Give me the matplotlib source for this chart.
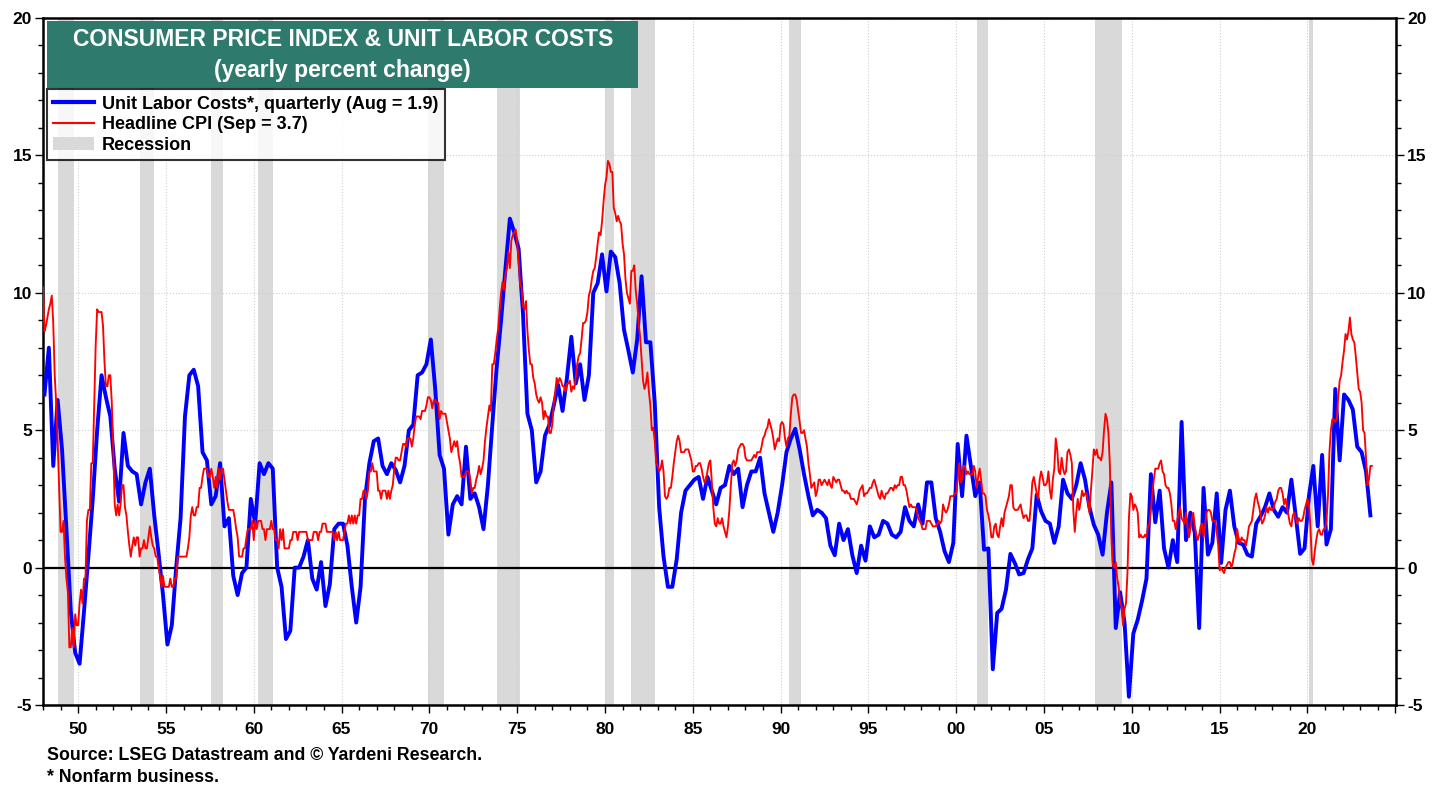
import numpy as np
import matplotlib
matplotlib.use("Agg")
import matplotlib.pyplot as plt
from matplotlib.patches import Rectangle, Patch
from matplotlib.lines import Line2D
from matplotlib.ticker import MultipleLocator, FuncFormatter

plt.rcParams["font.family"] = ["Liberation Sans", "DejaVu Sans"]
plt.rcParams["font.weight"] = "bold"

# Headline CPI, yearly % change, monthly from Jan 1948
cpi_1948_49 = [10.2, 8.6, 8.8, 9.1, 9.4, 9.6, 9.9, 8.9, 7.0, 6.0, 4.6, 3.0,
               1.3, 1.3, 1.7, 0.4, -0.4, -0.9, -2.9, -2.9, -2.2, -2.9, -1.7, -2.1]
cpi_1950s = [-2.1, -1.3, -0.8, -1.3, -0.4, -0.4, 1.7, 2.1, 2.1, 3.8, 3.8, 5.9,
             8.1, 9.4, 9.3, 9.3, 9.3, 8.8, 7.5, 6.6, 6.6, 7.0, 7.0, 6.0,
             4.3, 2.3, 1.9, 2.3, 1.9, 2.3, 3.0, 3.0, 2.2, 1.9, 1.3, 0.8,
             0.4, 0.8, 1.1, 0.8, 1.1, 1.1, 0.4, 0.7, 0.7, 1.0, 0.7, 0.7,
             1.1, 1.5, 1.1, 0.8, 0.7, 0.4, 0.4, 0.0, -0.3, -0.7, -0.3, -0.7,
             -0.7, -0.7, -0.7, -0.4, -0.7, -0.7, -0.4, -0.4, 0.4, 0.4, 0.4, 0.4,
             0.4, 0.4, 0.4, 0.7, 1.1, 1.9, 2.2, 1.9, 1.9, 2.2, 2.2, 2.9,
             2.9, 3.3, 3.6, 3.6, 3.6, 3.3, 3.3, 3.6, 3.3, 2.9, 3.3, 2.9,
             3.6, 3.2, 3.6, 3.6, 3.2, 2.8, 2.4, 2.1, 2.1, 2.1, 2.1, 1.8,
             1.4, 1.1, 0.4, 0.4, 0.4, 0.7, 0.7, 1.1, 1.4, 1.4, 1.4, 1.7]
cpi_1960s = [1.0, 1.7, 1.4, 1.7, 1.7, 1.7, 1.4, 1.4, 1.0, 1.4, 1.4, 1.4,
             1.7, 1.4, 1.4, 1.0, 1.0, 0.7, 1.4, 1.0, 1.4, 0.7, 0.7, 0.7,
             0.7, 1.0, 1.0, 1.3, 1.3, 1.3, 1.0, 1.3, 1.3, 1.3, 1.3, 1.3,
             1.3, 1.0, 1.0, 1.0, 1.0, 1.3, 1.3, 1.3, 1.0, 1.3, 1.3, 1.6,
             1.6, 1.6, 1.3, 1.3, 1.3, 1.3, 1.3, 1.0, 1.3, 1.0, 1.3, 1.0,
             1.0, 1.0, 1.3, 1.6, 1.6, 1.9, 1.6, 1.9, 1.6, 1.9, 1.6, 1.9,
             1.9, 2.5, 2.5, 2.8, 2.8, 2.5, 2.8, 3.5, 3.5, 3.8, 3.5, 3.5,
             3.5, 2.8, 2.8, 2.5, 2.8, 2.8, 2.8, 2.5, 2.8, 2.5, 2.8, 3.0,
             3.6, 4.0, 4.0, 3.9, 3.9, 4.2, 4.5, 4.5, 4.4, 4.7, 4.7, 4.7,
             4.4, 4.7, 5.2, 5.5, 5.5, 5.5, 5.4, 5.7, 5.7, 5.7, 5.9, 6.2]
cpi_1970s = [6.2, 6.1, 5.8, 6.1, 6.1, 6.0, 6.0, 5.4, 5.7, 5.6, 5.6, 5.6,
             5.3, 5.0, 4.7, 4.2, 4.4, 4.6, 4.4, 4.6, 4.1, 3.8, 3.3, 3.3,
             3.3, 3.5, 3.5, 3.5, 3.2, 2.7, 2.9, 2.9, 3.2, 3.4, 3.7, 3.4,
             3.6, 3.9, 4.6, 5.1, 5.5, 5.9, 5.7, 7.4, 7.4, 7.8, 8.3, 8.7,
             9.4, 10.0, 10.4, 10.1, 10.7, 10.9, 11.5, 10.9, 11.9, 12.1, 12.2, 12.3,
             11.8, 11.2, 10.3, 10.2, 9.5, 9.4, 9.7, 8.6, 7.9, 7.4, 7.4, 6.9,
             6.7, 6.3, 6.1, 6.0, 6.2, 6.0, 5.4, 5.7, 5.5, 5.5, 4.9, 4.9,
             5.2, 6.0, 6.4, 6.9, 6.7, 6.9, 6.8, 6.6, 6.6, 6.4, 6.7, 6.7,
             6.8, 6.4, 6.6, 6.5, 6.9, 7.4, 7.7, 7.8, 8.3, 8.9, 8.9, 9.0,
             9.3, 9.9, 10.1, 10.5, 10.8, 10.9, 11.3, 11.8, 12.2, 12.1, 12.6, 13.3]
cpi_1980s = [13.9, 14.2, 14.8, 14.7, 14.4, 14.4, 13.1, 12.9, 12.6, 12.8, 12.6, 12.5,
             11.8, 11.4, 10.5, 10.0, 9.8, 9.6, 10.8, 10.8, 11.0, 10.1, 9.6, 8.9,
             8.4, 7.6, 6.8, 6.5, 6.7, 7.1, 6.4, 5.9, 5.0, 5.1, 4.6, 3.8,
             3.7, 3.5, 3.6, 3.9, 3.5, 2.6, 2.5, 2.6, 2.9, 2.9, 3.3, 3.8,
             4.2, 4.6, 4.8, 4.6, 4.2, 4.2, 4.2, 4.3, 4.3, 4.3, 4.1, 3.9,
             3.5, 3.5, 3.7, 3.7, 3.8, 3.8, 3.6, 3.3, 3.1, 3.2, 3.5, 3.8,
             3.9, 3.1, 2.2, 1.6, 1.5, 1.8, 1.6, 1.6, 1.8, 1.5, 1.3, 1.1,
             1.5, 2.1, 3.0, 3.8, 3.9, 3.7, 3.9, 4.3, 4.4, 4.5, 4.5, 4.4,
             4.0, 3.9, 3.9, 3.9, 3.9, 4.0, 4.1, 4.0, 4.2, 4.2, 4.2, 4.4,
             4.7, 4.8, 5.0, 5.1, 5.4, 5.2, 5.0, 4.7, 4.3, 4.5, 4.7, 4.6]
cpi_1990s = [5.2, 5.3, 5.2, 4.7, 4.4, 4.7, 4.8, 5.6, 6.2, 6.3, 6.3, 6.1,
             5.7, 5.3, 4.9, 4.9, 5.0, 4.7, 4.4, 3.8, 3.4, 2.9, 3.0, 3.1,
             2.6, 2.8, 3.2, 3.2, 3.0, 3.1, 3.2, 3.1, 3.0, 3.2, 3.0, 2.9,
             3.3, 3.2, 3.1, 3.2, 3.2, 3.0, 2.8, 2.8, 2.7, 2.8, 2.7, 2.7,
             2.5, 2.5, 2.5, 2.4, 2.3, 2.5, 2.8, 2.9, 3.0, 2.6, 2.7, 2.7,
             2.8, 2.9, 2.9, 3.1, 3.2, 3.0, 2.8, 2.6, 2.5, 2.8, 2.6, 2.5,
             2.7, 2.7, 2.8, 2.9, 2.9, 2.8, 3.0, 2.9, 3.0, 3.0, 3.3, 3.3,
             3.0, 3.0, 2.8, 2.5, 2.2, 2.3, 2.2, 2.2, 2.2, 2.1, 1.8, 1.7,
             1.6, 1.4, 1.4, 1.4, 1.7, 1.7, 1.7, 1.6, 1.5, 1.5, 1.5, 1.6,
             1.7, 1.6, 1.7, 2.3, 2.1, 2.0, 2.1, 2.3, 2.6, 2.6, 2.6, 2.7]
cpi_2000s = [2.7, 3.2, 3.8, 3.1, 3.2, 3.7, 3.7, 3.4, 3.5, 3.4, 3.4, 3.4,
             3.7, 3.5, 2.9, 3.3, 3.6, 3.2, 2.7, 2.7, 2.6, 2.1, 1.9, 1.6,
             1.1, 1.1, 1.5, 1.6, 1.2, 1.1, 1.5, 1.8, 1.5, 2.0, 2.2, 2.4,
             2.6, 3.0, 3.0, 2.2, 2.1, 2.1, 2.1, 2.2, 2.3, 2.0, 1.8, 1.9,
             1.9, 1.7, 1.7, 2.3, 3.1, 3.3, 3.0, 2.7, 2.5, 3.2, 3.5, 3.3,
             3.0, 3.0, 3.1, 3.5, 2.8, 2.5, 3.2, 3.6, 4.7, 4.3, 3.5, 3.4,
             4.0, 3.6, 3.4, 3.5, 4.2, 4.3, 4.1, 3.8, 2.1, 1.3, 2.0, 2.5,
             2.1, 2.4, 2.8, 2.6, 2.7, 2.7, 2.4, 2.0, 2.8, 3.5, 4.3, 4.1,
             4.3, 4.0, 4.0, 3.9, 4.2, 5.0, 5.6, 5.4, 4.9, 3.7, 1.1, 0.1,
             0.0, 0.2, -0.4, -0.7, -1.3, -1.4, -2.1, -1.5, -1.3, -0.2, 1.8, 2.7]
cpi_2010s = [2.6, 2.1, 2.3, 2.2, 2.0, 1.1, 1.2, 1.1, 1.1, 1.2, 1.1, 1.5,
             1.6, 2.1, 2.7, 3.2, 3.6, 3.6, 3.6, 3.8, 3.9, 3.5, 3.4, 3.0,
             2.9, 2.9, 2.7, 2.3, 1.7, 1.7, 1.4, 1.7, 2.0, 2.2, 1.8, 1.7,
             1.6, 2.0, 1.5, 1.1, 1.4, 1.8, 2.0, 1.5, 1.2, 1.0, 1.2, 1.5,
             1.6, 1.1, 1.5, 2.0, 2.1, 2.1, 2.0, 1.7, 1.7, 1.7, 1.3, 0.8,
             -0.1, 0.0, -0.1, -0.2, 0.0, 0.1, 0.2, 0.2, 0.0, 0.2, 0.5, 0.7,
             1.4, 1.0, 0.9, 1.1, 1.0, 1.0, 0.8, 1.1, 1.5, 1.6, 1.7, 2.1,
             2.5, 2.7, 2.4, 2.2, 1.9, 1.6, 1.7, 1.9, 2.2, 2.0, 2.2, 2.1,
             2.1, 2.2, 2.4, 2.5, 2.8, 2.9, 2.9, 2.7, 2.3, 2.5, 2.2, 1.9,
             1.6, 1.5, 1.9, 2.0, 1.8, 1.6, 1.8, 1.7, 1.7, 1.8, 2.1, 2.3]
cpi_2020s = [2.5, 2.3, 1.5, 0.3, 0.1, 0.6, 1.0, 1.3, 1.4, 1.2, 1.2, 1.4,
             1.4, 1.7, 2.6, 4.2, 5.0, 5.4, 5.4, 5.3, 5.4, 6.2, 6.8, 7.0,
             7.5, 7.9, 8.5, 8.3, 8.6, 9.1, 8.5, 8.3, 8.2, 7.7, 7.1, 6.5,
             6.4, 6.0, 5.0, 4.9, 4.0, 3.0, 3.2, 3.7, 3.7]

# Unit labor costs (nonfarm business), yearly % change, quarterly from 1948 Q1
ulc_1948_59 = [6.3, 8.0, 3.7, 6.1, 4.3, 1.4, -1.6, -3.1,
               -3.5, -1.6, 0.4, 2.5, 5.0, 7.0, 6.2, 5.5,
               3.6, 2.4, 4.9, 3.7, 3.5, 3.4, 2.3, 3.1,
               3.6, 1.9, 0.5, -1.0, -2.8, -2.1, 0.0, 1.8,
               5.5, 7.0, 7.2, 6.6, 4.2, 3.9, 2.3, 2.6,
               3.8, 1.5, 1.8, -0.3, -1.0, -0.2, 0.0, 2.5]
ulc_1960s = [1.6, 3.8, 3.4, 3.8, 3.6, 0.0, -0.7, -2.6,
             -2.3, 0.0, 0.0, 0.4, 1.0, -0.4, -0.8, 0.2,
             -1.4, -0.6, 1.4, 1.6, 1.6, 0.8, -0.7, -2.0,
             -0.7, 2.5, 3.8, 4.6, 4.7, 3.7, 3.4, 3.8,
             3.55, 3.1, 3.7, 5.0, 5.2, 7.0, 7.1, 7.4]
ulc_1970s = [8.3, 6.5, 4.1, 3.6, 1.2, 2.3, 2.6, 2.3,
             4.4, 2.5, 2.7, 2.2, 1.4, 3.0, 5.2, 7.3,
             9.0, 10.9, 12.7, 12.2, 11.6, 9.2, 5.6, 5.0,
             3.1, 3.5, 4.8, 5.2, 5.9, 6.65, 5.7, 6.9,
             8.4, 6.7, 7.4, 6.1, 7.0, 10.0, 10.35, 11.4]
ulc_1980s = [10.05, 11.5, 11.3, 10.35, 8.65, 7.9, 7.1, 8.3,
             10.6, 8.2, 8.2, 6.0, 2.2, 0.4, -0.7, -0.7,
             0.3, 2.0, 2.8, 3.0, 3.2, 3.3, 2.5, 3.3,
             2.8, 2.3, 2.9, 3.0, 3.7, 3.4, 3.6, 2.2,
             3.0, 3.5, 3.5, 4.0, 2.7, 2.0, 1.3, 2.0]
ulc_1990s = [3.0, 4.2, 4.7, 5.05, 4.3, 3.4, 2.6, 1.9,
             2.1, 2.0, 1.8, 0.8, 0.45, 1.6, 1.0, 1.4,
             0.45, -0.2, 0.8, 0.25, 1.5, 1.1, 1.2, 1.7,
             1.6, 1.2, 1.1, 1.3, 2.2, 1.7, 1.5, 2.3,
             1.6, 3.1, 3.1, 1.8, 1.3, 0.6, 0.2, 0.9]
ulc_2000s = [4.5, 2.6, 4.8, 3.7, 2.6, 3.1, 0.65, 0.7,
             -3.7, -1.65, -1.5, -0.8, 0.5, 0.17, -0.25, -0.2,
             0.3, 0.7, 2.65, 2.05, 1.7, 1.6, 0.9, 1.5,
             3.2, 2.7, 2.5, 3.0, 3.8, 3.2, 2.2, 1.56,
             1.2, 0.47, 2.0, 3.1, -2.2, -0.9, -2.0, -4.7]
ulc_2010s = [-2.4, -1.9, -1.2, -0.4, 3.4, 1.65, 2.8, 0.7,
             0.0, 1.0, 0.2, 5.3, 1.0, 2.0, 1.26, -2.2,
             2.9, 0.47, 0.9, 2.7, 0.17, 2.1, 2.8, 1.5,
             0.9, 0.84, 0.47, 0.4, 1.6, 1.87, 2.2, 2.7,
             2.1, 1.85, 2.2, 2.0, 3.2, 1.87, 0.5, 0.7]
ulc_2020s = [2.6, 3.7, 1.5, 4.1, 0.84, 1.4, 6.5, 3.9,
             6.3, 6.1, 5.75, 4.4, 4.2, 3.5, 1.9]

# NBER recessions (decimal years)
recessions = [(1948.83, 1949.75), (1953.5, 1954.33), (1957.58, 1958.25),
              (1960.25, 1961.08), (1969.92, 1970.83), (1973.83, 1975.17),
              (1980.0, 1980.5), (1981.5, 1982.83), (1990.5, 1991.17),
              (2001.17, 2001.83), (2007.92, 2009.42), (2020.08, 2020.33)]

cpi = np.array(cpi_1948_49 + cpi_1950s + cpi_1960s + cpi_1970s + cpi_1980s
               + cpi_1990s + cpi_2000s + cpi_2010s + cpi_2020s)
cpi_t = 1948 + np.arange(len(cpi)) / 12
ulc = np.array(ulc_1948_59 + ulc_1960s + ulc_1970s + ulc_1980s
               + ulc_1990s + ulc_2000s + ulc_2010s + ulc_2020s)
ulc_t = 1948 + 1 / 12 + 0.25 * np.arange(len(ulc))

fig = plt.figure(figsize=(14.48, 7.9), dpi=100)
ax = fig.add_axes([0.0297, 0.1076, 0.9345, 0.8696])

for a, b in recessions:
    ax.axvspan(a, b, color="#d9d9d9", lw=0, zorder=0)

ax.plot(ulc_t, ulc, color="#0000ff", lw=2.8, zorder=3, solid_joinstyle="round")
ax.plot(cpi_t, cpi, color="#ff0000", lw=1.35, zorder=4)
ax.axhline(0, color="black", lw=1.6, zorder=2)


def year_label(v, pos):
    if v > 2024.5:
        return ""
    return f"{int(round(v)) % 100:02d}"


ax.set_xlim(1948, 2025.05)
ax.set_ylim(-5, 20)
ax.xaxis.set_major_locator(MultipleLocator(5))
ax.xaxis.set_minor_locator(MultipleLocator(1))
ax.yaxis.set_major_locator(MultipleLocator(5))
ax.yaxis.set_minor_locator(MultipleLocator(1))
ax.xaxis.set_major_formatter(FuncFormatter(year_label))
ax.yaxis.set_major_formatter(FuncFormatter(lambda v, p: f"{int(v)}"))
ax.tick_params(axis="both", which="both", direction="out", width=1.0)
ax.tick_params(axis="y", which="both", left=True, right=True, labelleft=True, labelright=True)
ax.tick_params(which="major", length=6, labelsize=12.5)
ax.tick_params(which="minor", length=3.5)
ax.tick_params(axis="x", pad=6)
ax.tick_params(axis="y", pad=2)
ax.grid(True, which="major", color="#cfcfcf", linestyle=":", linewidth=0.8)
ax.set_axisbelow(True)
for s in ax.spines.values():
    s.set_linewidth(1.8)

# title box
ax.add_patch(Rectangle((0.003, 0.898), 0.437, 0.098, transform=ax.transAxes,
                       facecolor="#2e7b6e", edgecolor="none", zorder=6))
ax.text(0.2215, 0.968, "CONSUMER PRICE INDEX & UNIT LABOR COSTS", transform=ax.transAxes,
        ha="center", va="center", color="white", fontsize=16.5, fontweight="bold", zorder=7)
ax.text(0.2215, 0.923, "(yearly percent change)", transform=ax.transAxes,
        ha="center", va="center", color="white", fontsize=16.5, fontweight="bold", zorder=7)

handles = [Line2D([], [], color="#0000ff", lw=3.0),
           Line2D([], [], color="#ff0000", lw=1.5),
           Patch(facecolor="#d9d9d9", edgecolor="none")]
labels = ["Unit Labor Costs*, quarterly (Aug = 1.9)", "Headline CPI (Sep = 3.7)", "Recession"]
leg = ax.legend(handles, labels, loc="upper left", bbox_to_anchor=(0.003, 0.896),
                borderaxespad=0, frameon=True, fancybox=False,
                handlelength=2.25, handletextpad=0.45, labelspacing=0.2,
                borderpad=0.35, prop={"weight": "bold", "size": 13})
leg.get_frame().set_edgecolor("black")
leg.get_frame().set_linewidth(1.5)
leg.set_zorder(8)

fig.text(47 / 1448, 1 - 755 / 790, "Source: LSEG Datastream and \u00a9 Yardeni Research.",
         fontsize=12.8, fontweight="bold", va="center")
fig.text(47 / 1448, 1 - 778 / 790, "* Nonfarm business.", fontsize=12.8,
         fontweight="bold", va="center")

fig.savefig("out.png", dpi=100)
